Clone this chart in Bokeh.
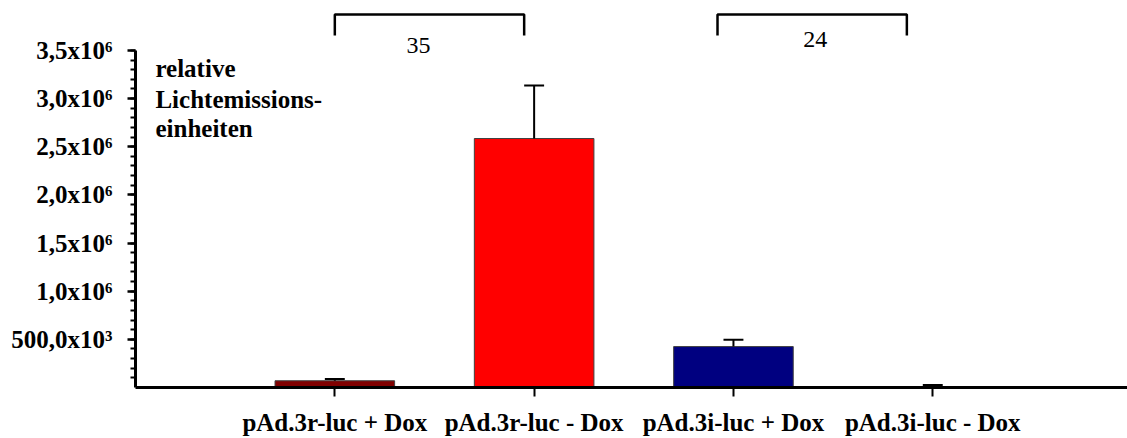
from bokeh.plotting import figure
from bokeh.models import FixedTicker, Label, Range1d, ColumnDataSource
from bokeh.embed import file_html
from bokeh.resources import INLINE

# ---------------- data ----------------
categories = ["pAd.3r-luc + Dox", "pAd.3r-luc - Dox", "pAd.3i-luc + Dox", "pAd.3i-luc - Dox"]
means = [70000, 2585000, 425000, 8000]
errors = [18000, 550000, 70000, 18000]
bar_colors = ["#800000", "#FF0000", "#000080", "#000080"]

y_ticks = [500000, 1000000, 1500000, 2000000, 2500000, 3000000, 3500000]
y_tick_labels = ["500,0x10³", "1,0x10⁶", "1,5x10⁶", "2,0x10⁶", "2,5x10⁶", "3,0x10⁶", "3,5x10⁶"]
y_minor_step = 100000
y_title_lines = ["relative", "Lichtemissions-", "einheiten"]

fold_labels = ["35", "24"]

# ---------------- layout / styling ----------------
W, H = 1127, 438
LEFT, BOTTOM = 135, 50
FONT = "Liberation Serif"

xs = list(range(1, len(categories) + 1))

p = figure(width=W, height=H, output_backend="svg", toolbar_location=None,
           x_range=Range1d(0, 4.977), y_range=Range1d(0, 4.018e6),
           min_border_left=LEFT, min_border_right=0, min_border_top=0,
           min_border_bottom=BOTTOM)
p.outline_line_color = None
p.grid.visible = False
p.background_fill_color = "white"
p.border_fill_color = "white"

# bars
src = ColumnDataSource(dict(x=xs, top=means, err_top=[m + e for m, e in zip(means, errors)],
                            color=bar_colors, cl=[x - 0.05 for x in xs], cr=[x + 0.05 for x in xs]))
p.vbar(x="x", top="top", bottom=0, width=0.6, fill_color="color",
       line_color="#404040", line_width=1, source=src)
# error bars
p.segment(x0="x", y0="top", x1="x", y1="err_top", line_color="black", line_width=2, source=src)
p.segment(x0="cl", y0="err_top", x1="cr", y1="err_top", line_color="black", line_width=2, source=src)

# significance brackets
br_top = 3.873e6
br_drop = 3.655e6
brackets = [(1.0, 1.95), (2.92, 3.87)]
p.multi_line(xs=[[a, a, b, b] for a, b in brackets],
             ys=[[br_drop, br_top, br_top, br_drop] for _ in brackets],
             line_color="black", line_width=2.5)
fold_pos = [(1.42, 3.552e6), (3.41, 3.614e6)]
for txt, (fx, fy) in zip(fold_labels, fold_pos):
    p.add_layout(Label(x=fx, y=fy, text=txt, text_align="center", text_baseline="middle",
                       text_font=FONT, text_font_size="24px", text_color="black"))

# y title inside plot
for line, ty in zip(y_title_lines, [3.310e6, 2.989e6, 2.688e6]):
    p.add_layout(Label(x=0.1, y=ty, text=line, text_align="left", text_baseline="alphabetic",
                       text_font=FONT, text_font_style="bold", text_font_size="25px",
                       text_color="black"))

# y axis
yax = p.yaxis[0]
yax.ticker = FixedTicker(ticks=y_ticks,
                         minor_ticks=list(range(y_minor_step, y_ticks[-1] + 1, y_minor_step)))
yax.major_label_overrides = dict(zip(y_ticks, y_tick_labels))
yax.bounds = (0, y_ticks[-1])
yax.axis_line_width = 3
yax.major_tick_line_width = 2.5
yax.minor_tick_line_width = 2
yax.major_tick_out = 8
yax.major_tick_in = 0
yax.minor_tick_out = 5
yax.minor_tick_in = 0
yax.major_label_text_font = FONT
yax.major_label_text_font_style = "bold"
yax.major_label_text_font_size = "25px"
yax.major_label_text_color = "black"
yax.major_label_standoff = 15

# x axis
xax = p.xaxis[0]
xax.ticker = FixedTicker(ticks=xs, minor_ticks=[])
xax.major_label_overrides = dict(zip(xs, categories))
xax.axis_line_width = 3
xax.major_tick_line_width = 2
xax.major_tick_out = 9
xax.major_tick_in = 0
xax.minor_tick_line_color = None
xax.major_label_text_font = FONT
xax.major_label_text_font_style = "bold"
xax.major_label_text_font_size = "25px"
xax.major_label_text_color = "black"
xax.major_label_standoff = 12

open("out.html", "w").write(file_html(p, INLINE))
